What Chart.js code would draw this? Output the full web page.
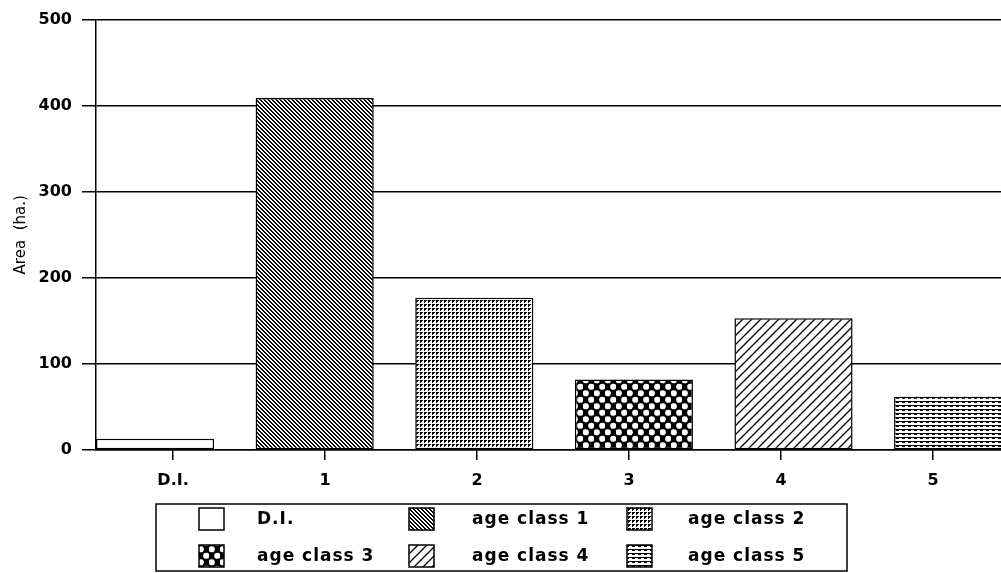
<!DOCTYPE html>
<html>
<head>
<meta charset="utf-8">
<script src="https://cdn.jsdelivr.net/npm/chart.js@4/dist/chart.umd.min.js"></script>
<style>
  html, body { margin: 0; padding: 0; background: #fff; overflow: hidden; }
  canvas { display: block; }
</style>
</head>
<body>
<canvas id="chart" width="1001" height="573"></canvas>
<script>
// categories along the x-axis and the bar heights (ha.)
const categories = ["D.I.", "1", "2", "3", "4", "5"];
const legendNames = ["D.I.", "age class 1", "age class 2", "age class 3", "age class 4", "age class 5"];
const areaValues = [13, 409, 177, 82, 153, 62];
const yTicks = [0, 100, 200, 300, 400, 500];

// small tiled hatch patterns, like the old printer fills
function makePattern(w, h, draw) {
  const c = document.createElement("canvas");
  c.width = w;
  c.height = h;
  const g = c.getContext("2d");
  g.fillStyle = "#fff";
  g.fillRect(0, 0, w, h);
  g.fillStyle = "#000";
  g.strokeStyle = "#000";
  draw(g, w, h);
  return c.getContext("2d").createPattern(c, "repeat");
}

const patterns = [
  "#ffffff",
  // age class 1: dense "\" stripes
  makePattern(4, 4, (g) => {
    for (let y = 0; y < 4; y++)
      for (let x = 0; x < 4; x++) {
        const d = (x - y + 8) % 4;
        if (d === 0 || d === 1) g.fillRect(x, y, 1, 1);
      }
  }),
  // age class 2: grid of dots
  makePattern(4, 4, (g) => {
    g.fillRect(0, 0, 2, 2);
    g.fillRect(2, 0, 1, 1);
    g.fillRect(0, 2, 1, 1);
  }),
  // age class 3: white dots on black
  makePattern(11, 13, (g) => {
    g.fillRect(0, 0, 11, 13);
    g.fillStyle = "#fff";
    g.beginPath(); g.arc(2.75, 3.25, 3.1, 0, Math.PI * 2); g.fill();
    g.beginPath(); g.arc(8.25, 9.75, 3.1, 0, Math.PI * 2); g.fill();
  }),
  // age class 4: "/" lines
  makePattern(9, 9, (g) => {
    g.lineWidth = 1.3;
    g.beginPath();
    g.moveTo(-1, 10); g.lineTo(10, -1);
    g.moveTo(-1, 1); g.lineTo(1, -1);
    g.moveTo(8, 10); g.lineTo(10, 8);
    g.stroke();
  }),
  // age class 5: wavy horizontal lines
  makePattern(6, 4, (g) => {
    g.fillRect(0, 1, 6, 1);
    g.fillRect(2, 2, 3, 1);
  })
];

const legendBox = {
  id: "legendBox",
  afterDraw(chart) {
    const ctx = chart.ctx;
    const fills = chart.data.datasets[0].backgroundColor;
    const swatchX = [199, 409, 627];
    const textX = [257, 472, 688];
    const rowY = [519, 556];
    ctx.save();
    ctx.strokeStyle = "#000";
    ctx.lineWidth = 1.5;
    ctx.strokeRect(156, 504, 691, 67);
    ctx.font = "bold 17px 'DejaVu Sans'";
    ctx.letterSpacing = "1px";
    ctx.textBaseline = "middle";
    legendNames.forEach((name, i) => {
      const col = i % 3;
      const cy = rowY[Math.floor(i / 3)];
      ctx.fillStyle = fills[i];
      ctx.fillRect(swatchX[col], cy - 11, 25, 22);
      ctx.strokeRect(swatchX[col], cy - 11, 25, 22);
      ctx.fillStyle = "#000";
      ctx.fillText(name, textX[col], cy + 1);
    });
    ctx.restore();
  }
};

const intTicks = (s) => { s.ticks = categories.map((c, i) => ({ value: i })); };

new Chart(document.getElementById("chart"), {
  type: "bar",
  data: {
    datasets: [{
      label: "Area",
      data: areaValues.map((v, i) => ({ x: i, y: v })),
      backgroundColor: patterns,
      borderColor: "#000",
      borderWidth: 1.5,
      borderSkipped: false,
      barPercentage: 0.74,
      categoryPercentage: 1
    }]
  },
  options: {
    responsive: false,
    animation: false,
    layout: { padding: { top: 16, right: 0, bottom: 73, left: 0 } },
    plugins: { legend: { display: false }, tooltip: { enabled: false } },
    scales: {
      x: {
        type: "linear",
        display: false,
        bounds: "data",
        offset: false,
        grid: { offset: false },
        min: -0.37,
        max: 5.3,
        afterBuildTicks: intTicks
      },
      xl: {
        type: "linear",
        position: "bottom",
        bounds: "data",
        offset: false,
        min: -0.507,
        max: 5.447,
        afterBuildTicks: intTicks,
        afterFit: (s) => { s.height = 50; },
        grid: { offset: false, drawOnChartArea: false, color: "#000", lineWidth: 1.5, tickLength: 10 },
        border: { display: true, color: "#000", width: 1.5 },
        ticks: {
          color: "#000",
          padding: 11,
          font: { family: "DejaVu Sans", size: 16, weight: "bold" },
          callback: (v) => categories[v]
        }
      },
      y: {
        min: 0,
        max: 500,
        afterBuildTicks: (s) => { s.ticks = yTicks.map((v) => ({ value: v })); },
        afterFit: (s) => { s.width = 96; },
        grid: { color: "#000", lineWidth: 1.5, tickLength: 14 },
        border: { display: true, color: "#000", width: 1.5 },
        ticks: {
          color: "#000",
          padding: 10,
          font: { family: "DejaVu Sans", size: 16, weight: "bold" }
        },
        title: {
          display: true,
          text: "Area  (ha.)",
          color: "#000",
          padding: { top: 12, bottom: 0 },
          font: { family: "DejaVu Sans", size: 15 }
        }
      }
    }
  },
  plugins: [legendBox]
});
</script>
</body>
</html>
